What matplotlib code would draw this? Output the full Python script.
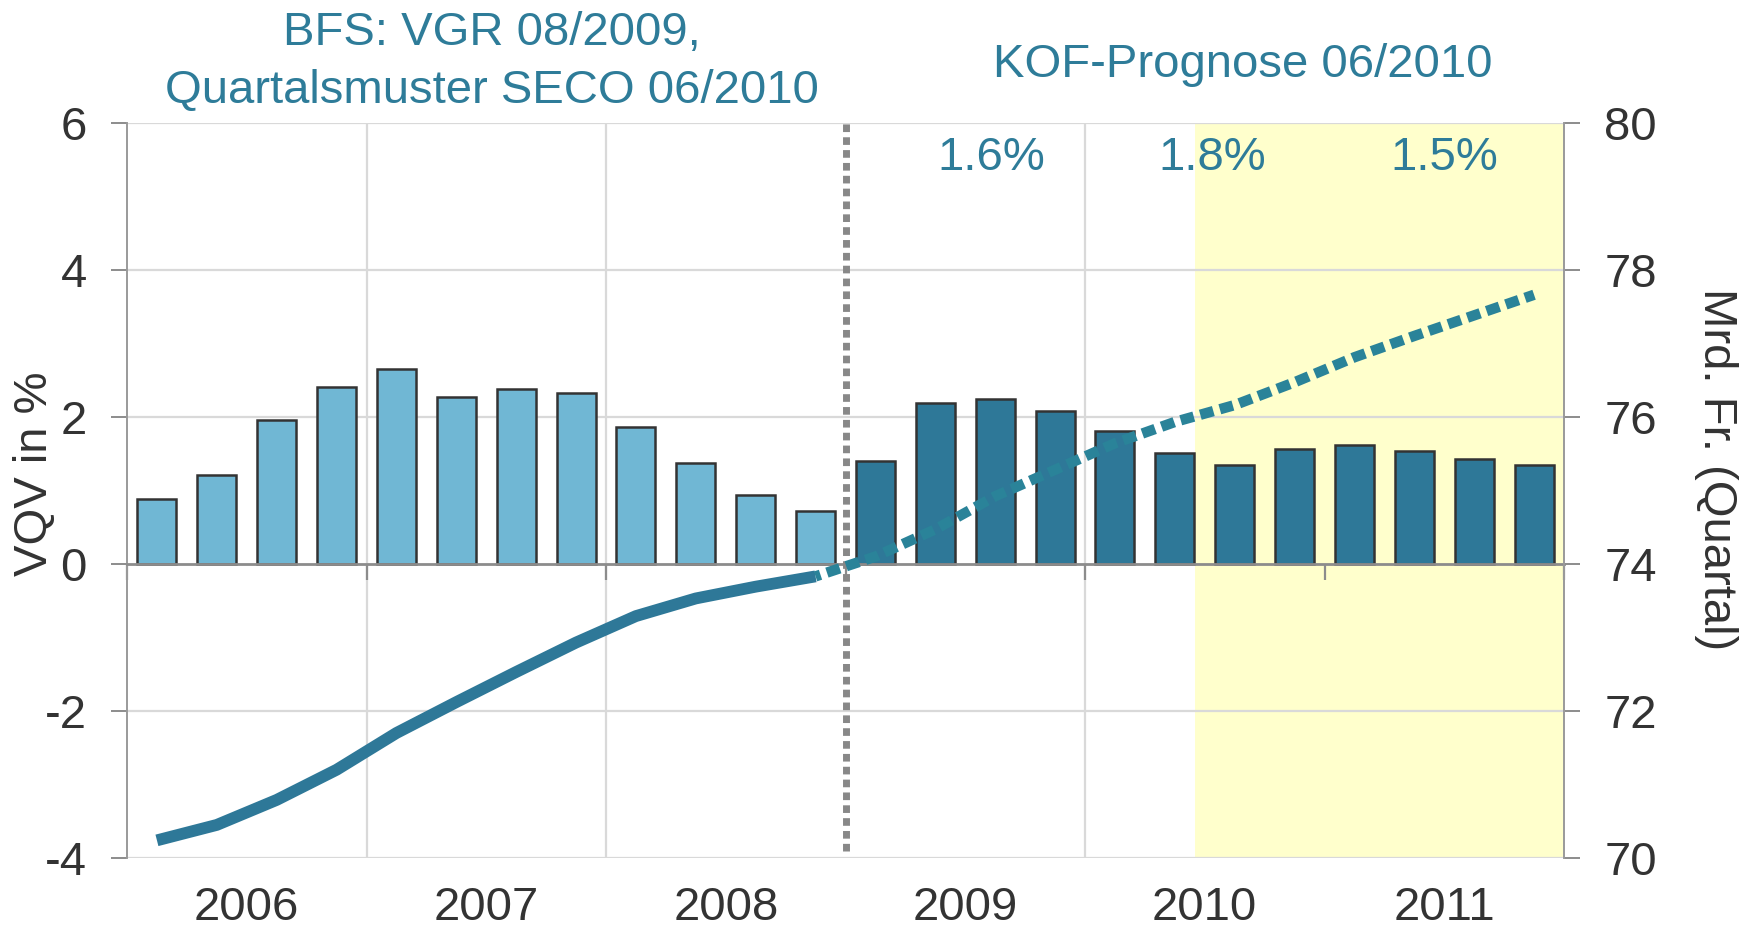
import matplotlib
matplotlib.use('Agg')
import matplotlib.pyplot as plt
import matplotlib.transforms as mtrans

plt.rcParams['font.family'] = ['Liberation Sans', 'DejaVu Sans']

# ---------------- data ----------------
quarters = ['2006Q1', '2006Q2', '2006Q3', '2006Q4',
            '2007Q1', '2007Q2', '2007Q3', '2007Q4',
            '2008Q1', '2008Q2', '2008Q3', '2008Q4',
            '2009Q1', '2009Q2', '2009Q3', '2009Q4',
            '2010Q1', '2010Q2', '2010Q3', '2010Q4',
            '2011Q1', '2011Q2', '2011Q3', '2011Q4']
growth_hist = [0.88, 1.21, 1.95, 2.41, 2.65, 2.27, 2.38, 2.33, 1.86, 1.37, 0.94, 0.72]
growth_fc = [1.40, 2.19, 2.24, 2.08, 1.81, 1.51, 1.35, 1.56, 1.62, 1.54, 1.43, 1.35]
level_hist = [70.24, 70.45, 70.79, 71.20, 71.70, 72.12, 72.53, 72.93, 73.29, 73.53, 73.69, 73.83]
level_fc = [74.10, 74.47, 74.92, 75.28, 75.64, 75.93, 76.16, 76.47, 76.81, 77.10, 77.38, 77.66]
years = ['2006', '2007', '2008', '2009', '2010', '2011']
annual_fc = ['1.6%', '1.8%', '1.5%']
left_ticks = [-4, -2, 0, 2, 4, 6]
right_ticks = [70, 72, 74, 76, 78, 80]

# ---------------- style ----------------
c_light = '#70B7D4'
c_dark = '#2E7898'
c_line = '#2E7898'
c_dot = '#2A8399'
c_text = '#2E7C99'
c_tick = '#333333'
c_grid = '#D9D9D9'
c_axis = '#8C8C8C'
fs = 34
W, H = 1761, 927

fig = plt.figure(figsize=(W / 100, H / 100), dpi=100)
ax = fig.add_axes([127 / W, 1 - 858 / H, (1564 - 127) / W, (858 - 122.7) / H])
ax.set_zorder(1)
ax.patch.set_visible(False)

n = len(quarters)
nh = len(growth_hist)
xh = list(range(nh))
xf = list(range(nh, n))

ax.set_xlim(-0.5, n - 0.5)
ax.set_ylim(left_ticks[0], left_ticks[-1])

# yellow forecast area
ax.axvspan(17.33, n - 0.5, color='#FFFFCC', zorder=0.2, lw=0)

# grid
for yv in left_ticks:
    if yv != 0:
        ax.axhline(yv, color=c_grid, lw=1.6, zorder=0.5)
for xv in [3.5, 7.5, 15.5]:
    ax.axvline(xv, color=c_grid, lw=1.6, zorder=0.5)

# bars
ax.bar(xh, growth_hist, width=0.65, color=c_light, edgecolor='#333333', linewidth=1.8, zorder=2)
ax.bar(xf, growth_fc, width=0.65, color=c_dark, edgecolor='#333333', linewidth=1.8, zorder=2)

# separator
ax.axvline(11.5, ymin=0.01, ymax=1.0, color='#888888', lw=5, linestyle=(0, (1.1, 0.75)), zorder=3)

# spines / ticks
ax.spines['top'].set_visible(False)
ax.spines['right'].set_visible(False)
ax.spines['left'].set_color('#9A9A9A')
ax.spines['left'].set_linewidth(1.4)
ax.spines['bottom'].set_position(('data', 0))
ax.spines['bottom'].set_color(c_axis)
ax.spines['bottom'].set_linewidth(2.0)
ax.spines['bottom'].set_zorder(2.5)

ax.set_yticks(left_ticks)
ax.set_yticklabels([str(t) for t in left_ticks])
ax.tick_params(axis='y', direction='out', length=11.5, width=1.4, color=c_axis,
               labelsize=fs, labelcolor=c_tick, pad=17.5)
ax.set_xticks([-0.5, 3.5, 7.5, 11.5, 15.5, 19.5, 23.5])
ax.set_xticklabels([])
ax.tick_params(axis='x', direction='out', length=11.5, width=1.6, color=c_axis)

# year labels (baseline placed at the picture's baseline)
trans = mtrans.blended_transform_factory(ax.transData, ax.transAxes)
for i, yl in enumerate(years):
    ax.text(1.5 + 4 * i, (858 - 920) / (858 - 122.7), yl, transform=trans,
            ha='center', va='baseline', fontsize=fs, color=c_tick)

# annual forecast labels
for xv, t in zip([13.93, 17.63, 21.5], annual_fc):
    ax.text(xv, 5.356, t, ha='center', va='baseline', fontsize=fs, color=c_text, zorder=5)

# right axis with level line
ax2 = ax.twinx()
ax2.set_zorder(2)
ax2.patch.set_visible(False)
ax2.set_ylim(right_ticks[0], right_ticks[-1])
ax2.set_yticks(right_ticks)
ax2.set_yticklabels([str(t) for t in right_ticks])
ax2.tick_params(axis='y', direction='out', length=11.5, width=1.4, color=c_axis,
                labelsize=fs, labelcolor=c_tick, pad=17.5)
for s in ['top', 'left', 'bottom']:
    ax2.spines[s].set_visible(False)
ax2.spines['right'].set_color('#9A9A9A')
ax2.spines['right'].set_linewidth(1.4)

ax2.plot(xh, level_hist, color=c_line, lw=8.5, solid_capstyle='butt', solid_joinstyle='round')
ax2.plot([xh[-1]] + xf, [level_hist[-1]] + level_fc, color=c_dot, lw=7.5,
         linestyle=(0.8, (1.3, 0.65)), dash_capstyle='butt')

# axis labels
fig.text(35 / W, 1 - 474 / H, 'VQV in %', rotation=90, ha='center', va='center',
         fontsize=fs, color=c_tick)
fig.text(1716 / W, 1 - 469 / H, 'Mrd. Fr. (Quartal)', rotation=270, ha='center', va='center',
         fontsize=fs, color=c_tick)

# headers
fig.text(492 / W, 1 - 45 / H, 'BFS: VGR 08/2009,', ha='center', va='baseline', fontsize=fs, color=c_text)
fig.text(492 / W, 1 - 102.7 / H, 'Quartalsmuster SECO 06/2010', ha='center', va='baseline', fontsize=fs, color=c_text)
fig.text(1243 / W, 1 - 77.3 / H, 'KOF-Prognose 06/2010', ha='center', va='baseline', fontsize=fs, color=c_text)

fig.savefig('out.png', dpi=100)
